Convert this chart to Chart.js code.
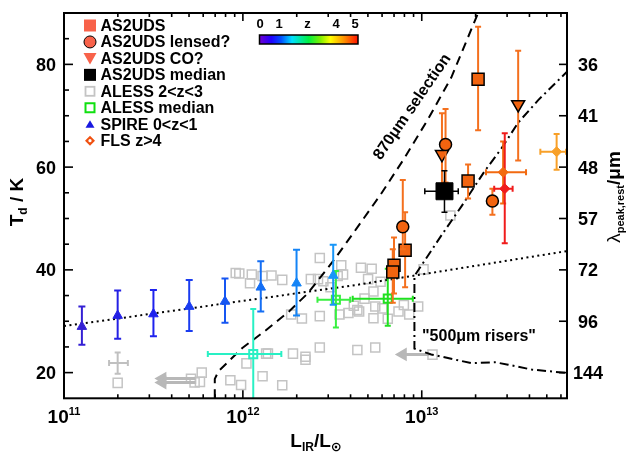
<!DOCTYPE html>
<html><head><meta charset="utf-8">
<script src="https://cdn.jsdelivr.net/npm/chart.js@4.4.1/dist/chart.umd.min.js"></script>
<style>html,body{margin:0;padding:0;background:#fff;}#wrap{width:626px;height:454px;}</style>
</head><body><div id="wrap"><canvas id="c" width="626" height="454"></canvas></div>
<script>
// ---------- DATA (log10 L_IR / L_sun, T_d in K) ----------
const xTickExponents = [11, 12, 13];
const yTickLabels = [20, 40, 60, 80];
const rightTickT = [80, 70, 60, 50, 40, 30, 20];
const rightTickLabels = ['36', '41', '48', '57', '72', '96', '144'];
const legendLabels = ['AS2UDS', 'AS2UDS lensed?', 'AS2UDS CO?', 'AS2UDS median', 'ALESS 2<z<3', 'ALESS median', 'SPIRE 0<z<1', 'FLS z>4'];
const colorbarLabels = ['0', '1', 'z', '4', '5'];
const colorbarLabelZ = [0, 1, 2.5, 4, 5];

// ALESS 2<z<3 individual sources
const alessL = [11.30, 11.71, 11.77, 11.76, 11.73, 11.93, 11.99, 12.11, 12.22, 12.02, 12.13, 12.14, 12.28, 12.35, 12.35, 12.43, 12.64, 12.74,
  11.96, 11.98, 12.05, 12.04, 12.11, 12.16, 12.22, 12.43, 12.42, 12.38, 12.45, 12.27, 12.33, 12.43, 12.53, 12.55, 12.56, 12.49,
  12.66, 12.72, 12.70, 12.77, 12.73, 12.68, 12.62, 12.64, 12.59, 12.54, 12.74, 12.73, 12.81, 12.87, 12.90, 12.93, 12.98, 12.65,
  12.78, 13.01, 13.16, 13.06];
const alessT = [18.0, 18.8, 20.0, 18.2, 18.1, 18.5, 17.6, 19.3, 17.55, 21.8, 23.7, 23.7, 23.7, 23.1, 22.5, 24.9, 24.4, 24.9,
  39.4, 39.3, 39.1, 37.4, 38.8, 38.9, 38.05, 42.3, 38.2, 38.2, 37.8, 31.3, 30.55, 31.0, 38.8, 40.9, 39.1, 36.6,
  40.4, 40.2, 38.2, 37.7, 35.8, 34.4, 33.0, 32.2, 31.6, 31.3, 32.85, 30.6, 30.5, 31.9, 33.15, 31.3, 32.85, 31.9,
  32.5, 40.1, 50.6, 23.5];
// ALESS upper-limit arrows (tail L, head L, T)
const arrowTailL = [11.735, 11.735, 13.043];
const arrowHeadL = [11.55, 11.55, 12.894];
const arrowT = [18.83, 18.08, 23.54];
// representative ALESS error cross
const crossL = [11.30], crossT = [21.85], crossLLo = [11.252], crossLHi = [11.357], crossTLo = [19.77], crossTHi = [23.9];

// ALESS medians
const aleMedL = [12.058, 12.52, 12.81];
const aleMedT = [23.6, 34.2, 34.4];
const aleMedLLo = [11.804, 12.417, 12.614];
const aleMedLHi = [12.215, 12.60, 12.95];
const aleMedTLo = [10.0, 28.8, 29.1];
const aleMedTHi = [32.4, 39.8, 40.2];

// SPIRE 0<z<1 stacks
const spireL = [11.10, 11.30, 11.50, 11.70, 11.90, 12.10, 12.30, 12.505];
const spireT = [28.95, 31.1, 31.4, 32.85, 33.85, 36.6, 37.4, 38.9];
const spireTLo = [25.4, 26.6, 27.1, 28.1, 29.7, 31.9, 31.1, 33.2];
const spireTHi = [32.85, 36.0, 36.1, 38.05, 38.3, 41.7, 43.9, 44.9];

// AS2UDS
const sqL = [12.845, 12.838, 12.907, 13.259, 13.315];
const sqT = [40.9, 39.6, 43.8, 57.3, 77.1];
const sqTLo = [35.4, 33.6, 36.6, 53.9, 67.2];
const sqTHi = [46.3, 44.0, 51.2, 60.5, 87.3];
const ciL = [12.894, 13.133, 13.395];
const ciT = [48.4, 64.4, 53.4];
const ciTLo = [44.0, 57.0, 50.75];
const ciTHi = [57.5, 71.3, 55.8];
const trL = [13.113, 13.539];
const trT = [62.5, 72.2];
const trTLo = [55.5, 61.3];
const trTHi = [70.5, 82.65];
const medL = [13.127], medT = [55.3], medLLo = [13.017], medLHi = [13.204], medTLo = [51.2], medTHi = [59.3];

// FLS z>4
const flsL = [13.455, 13.464, 13.754];
const flsT = [59.0, 55.8, 63.0];
const flsLLo = [13.359, 13.405, 13.663];
const flsLHi = [13.583, 13.508, 13.807];
const flsTLo = [52.9, 45.2, 59.5];
const flsTHi = [65.0, 66.6, 66.45];

// model / selection curves
const dottedL = [11.0, 12.64, 13.82];
const dottedT = [29.05, 37.1, 43.7];
const dashedL = [11.843, 11.843, 11.864, 11.997, 12.127, 12.258, 12.361, 12.510, 12.638, 12.772, 12.903, 13.034, 13.165, 13.315];
const dashedT = [15.0, 18.77, 20.28, 24.8, 28.2, 31.9, 35.36, 41.95, 48.17, 54.76, 61.74, 69.27, 77.43, 90.0];
const dashDotL = [13.821, 13.651, 13.539, 13.445, 13.352, 13.221, 13.109, 12.959, 12.959, 13.053, 13.277, 13.408, 13.483, 13.614, 13.821];
const dashDotT = [78.88, 73.04, 68.65, 63.62, 59.23, 52.31, 46.66, 38.8, 24.67, 23.54, 21.84, 22.03, 21.54, 20.6, 19.9];

// ---------- helpers ----------
const P = (L, T) => L.map((l, i) => ({x: Math.pow(10, l), y: T[i]}));
const E = a => a.map(l => Math.pow(10, l));
const FONT = "'Liberation Sans', Arial, sans-serif";
const ORANGE = '#f26410';
const spireColors = ['#3420d4', '#2420e4', '#1e22ee', '#1a3cf0', '#1656f2', '#146ef4', '#1484f6', '#1896f8'];
const aleColors = ['#28f0c4', '#38f040', '#20e020'];
const flsColors = ['#f26a10', '#f01c1c', '#f8a028'];

function lineDS(L, T, dash, order) {
  return {data: P(L, T), showLine: true, pointRadius: 0, borderColor: '#000', borderWidth: 2,
    borderDash: dash, fill: false, tension: 0, order: order, clip: 0};
}

const datasets = [
  {data: P(alessL, alessT), pointStyle: 'rect', pointRadius: 6.4, backgroundColor: 'rgba(0,0,0,0)',
    borderColor: '#c4c4c4', borderWidth: 1.5, order: 20},
  {data: P(crossL, crossT), pointRadius: 0, order: 19,
    errorBars: {xLo: E(crossLLo), xHi: E(crossLHi), yLo: crossTLo, yHi: crossTHi, color: '#c0c0c0', width: 2, cap: 3}},
];
arrowT.forEach((t, i) => {
  datasets.push({data: [{x: Math.pow(10, arrowTailL[i]), y: t}, {x: Math.pow(10, arrowHeadL[i]), y: t}],
    showLine: true, borderColor: '#b8b8b8', borderWidth: 3, pointStyle: 'triangle', pointRotation: -90,
    pointRadius: [0, 5], pointBackgroundColor: '#b8b8b8', pointBorderColor: '#b8b8b8', order: 18});
});
datasets.push(
  lineDS(dottedL, dottedT, [2, 3.5], 15),
  lineDS(dashedL, dashedT, [9, 6], 14),
  lineDS(dashDotL, dashDotT, [9, 4, 2, 4], 13),
  {data: P(aleMedL, aleMedT), pointStyle: 'rect', pointRadius: 5.7, backgroundColor: 'rgba(0,0,0,0)',
    borderColor: aleColors, borderWidth: 2, order: 8,
    errorBars: {xLo: E(aleMedLLo), xHi: E(aleMedLHi), yLo: aleMedTLo, yHi: aleMedTHi, color: aleColors, width: 2, cap: 3}},
  {data: P(spireL, spireT), pointStyle: 'triangle', pointRadius: 5.5, backgroundColor: spireColors,
    borderColor: spireColors, borderWidth: 1, order: 7,
    errorBars: {yLo: spireTLo, yHi: spireTHi, color: spireColors, width: 2, cap: 3.5}},
  {data: P(sqL, sqT), pointStyle: 'rect', pointRadius: 8.5, backgroundColor: ORANGE,
    borderColor: '#000', borderWidth: 1.5, order: 5,
    errorBars: {yLo: sqTLo, yHi: sqTHi, color: '#f4701e', width: 2, cap: 3}},
  {data: P(ciL, ciT), pointStyle: 'circle', pointRadius: 6, backgroundColor: ORANGE,
    borderColor: '#000', borderWidth: 1.5, order: 4,
    errorBars: {yLo: ciTLo, yHi: ciTHi, color: '#f4701e', width: 2, cap: 3}},
  {data: P(trL, trT), pointStyle: 'triangle', pointRotation: 180, pointRadius: 7.5, backgroundColor: ORANGE,
    borderColor: '#000', borderWidth: 1.5, order: 4,
    errorBars: {yLo: trTLo, yHi: trTHi, color: '#f4701e', width: 2, cap: 3}},
  {data: P(medL, medT), pointStyle: 'rect', pointRadius: 12, backgroundColor: '#000',
    borderColor: '#000', borderWidth: 1, order: 3,
    errorBars: {xLo: E(medLLo), xHi: E(medLHi), yLo: medTLo, yHi: medTHi, color: '#000', width: 1.5, cap: 3}},
  {data: P(flsL, flsT), pointStyle: 'rectRot', pointRadius: 5, backgroundColor: flsColors,
    borderColor: flsColors, borderWidth: 1, order: 2,
    errorBars: {xLo: E(flsLLo), xHi: E(flsLHi), yLo: flsTLo, yHi: flsTHi, color: flsColors, width: 2, cap: 3}}
);

// ---------- plugins ----------
const errorBarPlugin = {
  id: 'errbars',
  beforeDatasetDraw(chart, args) {
    const ds = chart.data.datasets[args.index];
    const eb = ds.errorBars; if (!eb) return;
    const {ctx, chartArea: a, scales: {x, y}} = chart;
    ctx.save();
    ctx.beginPath(); ctx.rect(a.left, a.top, a.right - a.left, a.bottom - a.top); ctx.clip();
    ctx.lineWidth = eb.width; ctx.lineCap = 'butt';
    ds.data.forEach((p, i) => {
      ctx.strokeStyle = Array.isArray(eb.color) ? eb.color[i] : eb.color;
      const px = x.getPixelForValue(p.x), py = y.getPixelForValue(p.y), c = eb.cap;
      ctx.beginPath();
      if (eb.yLo) {
        const y1 = y.getPixelForValue(eb.yLo[i]), y2 = y.getPixelForValue(eb.yHi[i]);
        ctx.moveTo(px, y1); ctx.lineTo(px, y2);
        ctx.moveTo(px - c, y1); ctx.lineTo(px + c, y1);
        ctx.moveTo(px - c, y2); ctx.lineTo(px + c, y2);
      }
      if (eb.xLo) {
        const x1 = x.getPixelForValue(eb.xLo[i]), x2 = x.getPixelForValue(eb.xHi[i]);
        ctx.moveTo(x1, py); ctx.lineTo(x2, py);
        ctx.moveTo(x1, py - c); ctx.lineTo(x1, py + c);
        ctx.moveTo(x2, py - c); ctx.lineTo(x2, py + c);
      }
      ctx.stroke();
    });
    ctx.restore();
  }
};

function rich(ctx, parts, x, y, align) {
  let w = 0;
  parts.forEach(p => { ctx.font = p.f; p.w = ctx.measureText(p.t).width; w += p.w; });
  let cx = align === 'center' ? x - w / 2 : (align === 'right' ? x - w : x);
  parts.forEach(p => { ctx.font = p.f; ctx.fillText(p.t, cx, y + (p.dy || 0)); cx += p.w; });
}

const axesPlugin = {
  id: 'axesDeco',
  afterDraw(chart) {
    const {ctx, chartArea: a, scales: {x, y}} = chart;
    ctx.save();
    ctx.strokeStyle = '#000'; ctx.fillStyle = '#000'; ctx.lineWidth = 1.6;
    const seg = (x1, y1, x2, y2) => { ctx.beginPath(); ctx.moveTo(x1, y1); ctx.lineTo(x2, y2); ctx.stroke(); };
    // x ticks (bottom & top, inward)
    xTickExponents.forEach(e => {
      for (let k = 1; k <= 9; k++) {
        const v = k * Math.pow(10, e);
        if (v < x.min * 0.999 || v > x.max * 1.001) continue;
        const px = x.getPixelForValue(v), len = k === 1 ? 8 : 4;
        seg(px, a.bottom, px, a.bottom - len); seg(px, a.top, px, a.top + len);
      }
    });
    // left y ticks every 5 K
    for (let t = 20; t < 90; t += 5) {
      const py = y.getPixelForValue(t), len = yTickLabels.includes(t) ? 9 : 5;
      seg(a.left, py, a.left + len, py);
    }
    // right ticks
    rightTickT.forEach(t => { const py = y.getPixelForValue(t); seg(a.right, py, a.right - 8, py); });
    // frame
    ctx.lineWidth = 2;
    ctx.strokeRect(a.left, a.top, a.right - a.left, a.bottom - a.top);
    // y labels
    ctx.textBaseline = 'alphabetic';
    ctx.font = 'bold 18px ' + FONT; ctx.textAlign = 'right';
    yTickLabels.forEach(t => ctx.fillText(String(t), 56, y.getPixelForValue(t) + 6.5));
    ctx.textAlign = 'center';
    rightTickT.forEach((t, i) => ctx.fillText(rightTickLabels[i], 588, y.getPixelForValue(t) + 6.5));
    ctx.textAlign = 'left';
    // x labels with superscripts
    xTickExponents.forEach(e => {
      const px = x.getPixelForValue(Math.pow(10, e));
      rich(ctx, [{t: '10', f: 'bold 19px ' + FONT}, {t: String(e), f: 'bold 11px ' + FONT, dy: -8}], px, 423, 'center');
    });
    // x title
    rich(ctx, [{t: 'L', f: 'bold 19px ' + FONT}, {t: 'IR', f: 'bold 12px ' + FONT, dy: 4},
      {t: '/L', f: 'bold 19px ' + FONT}, {t: '\u2299', f: 'bold 13px DejaVu Sans', dy: 4}], 316, 446.5, 'center');
    // left title
    ctx.save(); ctx.translate(22.5, 202); ctx.rotate(-Math.PI / 2);
    rich(ctx, [{t: 'T', f: 'bold 19px ' + FONT}, {t: 'd', f: 'bold 12px ' + FONT, dy: 4},
      {t: ' / K', f: 'bold 19px ' + FONT}], 0, 0, 'center');
    ctx.restore();
    // right title
    ctx.save(); ctx.translate(620, 197); ctx.rotate(-Math.PI / 2);
    rich(ctx, [{t: '\u03bb', f: '19px ' + FONT}, {t: 'peak,rest', f: 'bold 11px ' + FONT, dy: 4},
      {t: '/\u03bcm', f: 'bold 19px ' + FONT}], 0, 0, 'center');
    ctx.restore();
    // annotations
    ctx.save(); ctx.translate(411, 106); ctx.rotate(-55.5 * Math.PI / 180);
    ctx.font = 'bold 16px ' + FONT; ctx.textAlign = 'center';
    ctx.fillText('870\u03bcm selection', 0, 6);
    ctx.restore();
    ctx.font = 'bold 16px ' + FONT; ctx.textAlign = 'left';
    ctx.fillText('"500\u03bcm risers"', 422, 341);
    // colorbar
    const cb0 = 259.5, cb1 = 358, zpx = 19;
    const g = ctx.createLinearGradient(cb0, 0, cb1, 0);
    [[0, '#7000d0'], [0.12, '#2000ff'], [0.22, '#0050ff'], [0.33, '#00e0ff'], [0.5, '#00f040'],
     [0.62, '#80f000'], [0.72, '#ffff00'], [0.86, '#ff9000'], [1, '#ff1000']].forEach(s => g.addColorStop(s[0], s[1]));
    ctx.fillStyle = g; ctx.fillRect(cb0, 35, cb1 - cb0, 9);
    ctx.lineWidth = 1.5; ctx.strokeStyle = '#000'; ctx.strokeRect(cb0, 35, cb1 - cb0, 9);
    ctx.fillStyle = '#000'; ctx.font = 'bold 13px ' + FONT; ctx.textAlign = 'center';
    colorbarLabels.forEach((s, i) => ctx.fillText(s, 260 + colorbarLabelZ[i] * zpx, 28));
    // legend
    const mx = 90;
    legendLabels.forEach((lab, i) => {
      const by = 31 + 16.45 * i, cy = by - 5.5;
      ctx.save();
      ctx.lineWidth = 1.5;
      if (i === 0) { ctx.fillStyle = '#f8624a'; ctx.fillRect(mx - 6, cy - 6, 12, 12); }
      if (i === 1) { ctx.fillStyle = '#f8624a'; ctx.beginPath(); ctx.arc(mx, cy, 6, 0, Math.PI * 2); ctx.fill(); ctx.strokeStyle = '#000'; ctx.lineWidth = 1; ctx.stroke(); }
      if (i === 2) { ctx.fillStyle = '#f8624a'; ctx.beginPath(); ctx.moveTo(mx - 6.5, cy - 5.5); ctx.lineTo(mx + 6.5, cy - 5.5); ctx.lineTo(mx, cy + 6); ctx.closePath(); ctx.fill(); }
      if (i === 3) { ctx.fillStyle = '#000'; ctx.fillRect(mx - 6, cy - 6, 12, 12); }
      if (i === 4) { ctx.strokeStyle = '#c4c4c4'; ctx.lineWidth = 1.8; ctx.strokeRect(mx - 4.5, cy - 4.5, 9, 9); }
      if (i === 5) { ctx.strokeStyle = '#10e010'; ctx.lineWidth = 2; ctx.strokeRect(mx - 4.5, cy - 4.5, 9, 9); }
      if (i === 6) { ctx.fillStyle = '#1818e0'; ctx.beginPath(); ctx.moveTo(mx, cy - 4); ctx.lineTo(mx + 4.5, cy + 3.5); ctx.lineTo(mx - 4.5, cy + 3.5); ctx.closePath(); ctx.fill(); }
      if (i === 7) { ctx.fillStyle = '#f05010'; ctx.beginPath(); ctx.moveTo(mx, cy - 5); ctx.lineTo(mx + 5, cy); ctx.lineTo(mx, cy + 5); ctx.lineTo(mx - 5, cy); ctx.closePath(); ctx.fill();
        ctx.fillStyle = '#fff'; ctx.beginPath(); ctx.arc(mx, cy, 1.6, 0, Math.PI * 2); ctx.fill(); }
      ctx.restore();
      ctx.fillStyle = '#000'; ctx.font = 'bold 16px ' + FONT; ctx.textAlign = 'left';
      ctx.fillText(lab, 100.5, by);
    });
    ctx.restore();
  }
};

new Chart(document.getElementById('c'), {
  type: 'scatter',
  data: {datasets},
  options: {
    responsive: false, animation: false, devicePixelRatio: 1, events: [],
    layout: {padding: {left: 64, right: 59, top: 0.5, bottom: 55.7}},
    plugins: {legend: {display: false}, tooltip: {enabled: false}},
    scales: {
      x: {type: 'logarithmic', min: 1e11, max: Math.pow(10, 13.812), display: false},
      y: {type: 'linear', min: 15, max: 90, display: false}
    }
  },
  plugins: [errorBarPlugin, axesPlugin]
});
</script></body></html>
